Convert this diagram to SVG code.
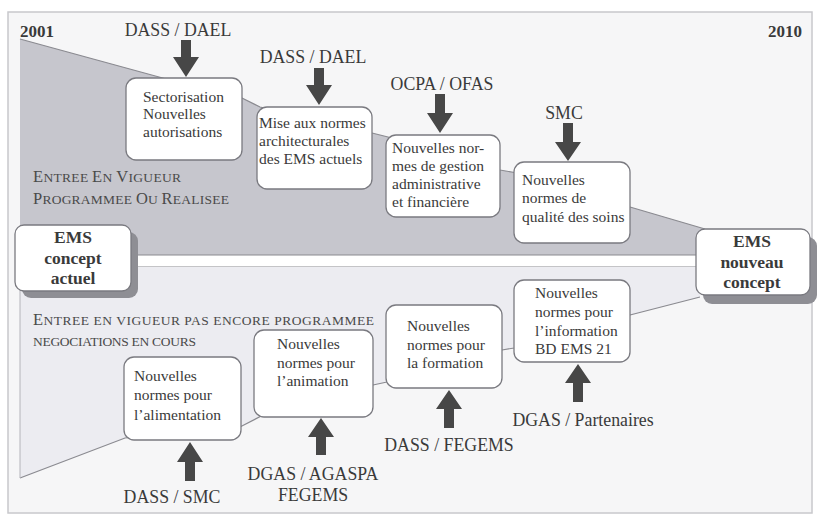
<svg xmlns="http://www.w3.org/2000/svg" width="820" height="518" viewBox="0 0 820 518">
<style>
  .bg{fill:#f6f6f7;stroke:#c8c8cc;stroke-width:1.5}
  .up{fill:#c6c6cd}
  .low{fill:#ececf1}
  .edge{fill:none;stroke:#8a8a90;stroke-width:1.2}
  .box{fill:#ffffff;stroke:#7a7a80;stroke-width:1.3}
  .shadow{fill:#8e8e94}
  .arr{fill:#474747}
  text{font-family:'Liberation Serif','DejaVu Serif',serif;fill:#3a3a3a}
  .bt{font-size:15.5px}
  .lbl{font-size:17.8px;text-anchor:middle}
  .sc{font-size:13.5px;fill:#4a4a4a}
  .big{font-size:16.5px}
  .ems{font-size:17.5px;font-weight:bold;text-anchor:middle}
  .yr{font-size:17px;font-weight:bold}
</style>
<rect class="bg" x="8" y="12" width="804" height="501"/>
<!-- upper funnel -->
<polygon class="up" points="20,39 170,80 240,97 260,107 372,133 388,137 500,170 517,173 630,207 705,229 705,255 20,255"/>
<polyline class="edge" points="20,39 170,80 240,97 260,107 372,133 388,137 500,170 517,173 630,207 705,229"/>
<!-- band -->
<rect x="130" y="255" width="575" height="12" fill="#ffffff"/>
<line class="edge" x1="130" y1="255" x2="705" y2="255"/>
<line class="edge" x1="130" y1="267" x2="705" y2="267"/>
<!-- lower funnel -->
<polygon class="low" points="20,267 700,267 700,297 630,315 514,348 502,350 387,382 373,385 267,413 240,427 125,438 20,478"/>
<polyline class="edge" points="700,297 630,315 514,348 502,350 387,382 373,385 267,413 240,427 125,438 20,478"/>
<line x1="20" y1="267" x2="20" y2="478" stroke="#b4b4ba" stroke-width="1"/>

<g font-family="'Liberation Serif','DejaVu Serif',serif">
<text class="yr" x="20" y="37">2001</text>
<text class="yr" x="768" y="37">2010</text>

<text class="sc" x="33" y="182" textLength="148" lengthAdjust="spacing"><tspan class="big">E</tspan>NTREE <tspan class="big">E</tspan>N <tspan class="big">V</tspan>IGUEUR</text>
<text class="sc" x="33" y="204" textLength="196" lengthAdjust="spacing"><tspan class="big">P</tspan>ROGRAMMEE <tspan class="big">O</tspan>U <tspan class="big">R</tspan>EALISEE</text>
<text class="sc" x="33" y="325" textLength="341" lengthAdjust="spacing"><tspan class="big">E</tspan>NTREE EN VIGUEUR PAS ENCORE PROGRAMMEE</text>
<text class="sc" x="33" y="346" textLength="163" lengthAdjust="spacing">NEGOCIATIONS EN COURS</text>
</g>

<g id="connectors">
  <path class="arr" d="M181,40H191V57H199L186,77L173,57H181Z"/>
  <path class="arr" d="M314,68H324V85H332L319,105L306,85H314Z"/>
  <path class="arr" d="M435,94H445V113H453L440,133L427,113H435Z"/>
  <path class="arr" d="M563,123H573V142H581L568,161L555,142H563Z"/>
  <path class="arr" d="M185,481H195V462H203L190,442L177,462H185Z"/>
  <path class="arr" d="M316,455H326V437H334L321,418L308,437H316Z"/>
  <path class="arr" d="M444,428H454V409H462L449,390L436,409H444Z"/>
  <path class="arr" d="M573,402H583V383H591L578,364L565,383H573Z"/>
</g>

<g id="labels" font-family="'Liberation Serif','DejaVu Serif',serif">
  <text class="lbl" x="178" y="36">DASS / DAEL</text>
  <text class="lbl" x="313" y="63">DASS / DAEL</text>
  <text class="lbl" x="442" y="90">OCPA / OFAS</text>
  <text class="lbl" x="564" y="119">SMC</text>
  <text class="lbl" x="172" y="503">DASS / SMC</text>
  <text class="lbl" x="313" y="480">DGAS / AGASPA</text>
  <text class="lbl" x="313" y="501">FEGEMS</text>
  <text class="lbl" x="449" y="451">DASS / FEGEMS</text>
  <text class="lbl" x="583" y="426">DGAS / Partenaires</text>
</g>

<g id="ems-actuel" font-family="'Liberation Serif','DejaVu Serif',serif">
  <rect class="shadow" x="22" y="232" width="116" height="66" rx="9"/>
  <rect class="box" x="15" y="225" width="116" height="66" rx="9"/>
  <text class="ems" x="73" y="243">EMS</text>
  <text class="ems" x="73" y="264">concept</text>
  <text class="ems" x="73" y="284">actuel</text>
</g>

<g id="ems-nouveau" font-family="'Liberation Serif','DejaVu Serif',serif">
  <rect class="shadow" x="703" y="237" width="114" height="67" rx="9"/>
  <rect class="box" x="696" y="229" width="114" height="66" rx="9"/>
  <text class="ems" x="752" y="247">EMS</text>
  <text class="ems" x="752" y="268">nouveau</text>
  <text class="ems" x="752" y="288">concept</text>
</g>

<g id="sectorisation" font-family="'Liberation Serif','DejaVu Serif',serif">
  <rect class="box" x="126" y="78" width="116" height="82" rx="10"/>
  <text class="bt" x="143" y="102">Sectorisation</text>
  <text class="bt" x="143" y="119">Nouvelles</text>
  <text class="bt" x="143" y="137">autorisations</text>
</g>

<g id="mise-aux-normes" font-family="'Liberation Serif','DejaVu Serif',serif">
  <rect class="box" x="257" y="107" width="115" height="82" rx="10"/>
  <text class="bt" x="259" y="128">Mise aux normes</text>
  <text class="bt" x="259" y="146">architecturales</text>
  <text class="bt" x="259" y="164">des EMS actuels</text>
</g>

<g id="gestion" font-family="'Liberation Serif','DejaVu Serif',serif">
  <rect class="box" x="386" y="135" width="114" height="82" rx="10"/>
  <text class="bt" x="392" y="153">Nouvelles nor-</text>
  <text class="bt" x="392" y="171">mes de gestion</text>
  <text class="bt" x="392" y="189">administrative</text>
  <text class="bt" x="392" y="207">et financière</text>
</g>

<g id="qualite" font-family="'Liberation Serif','DejaVu Serif',serif">
  <rect class="box" x="514" y="162" width="116" height="81" rx="10"/>
  <text class="bt" x="522" y="185">Nouvelles</text>
  <text class="bt" x="522" y="203">normes de</text>
  <text class="bt" x="522" y="222">qualité des soins</text>
</g>

<g id="alimentation" font-family="'Liberation Serif','DejaVu Serif',serif">
  <rect class="box" x="124" y="357" width="117" height="83" rx="10"/>
  <text class="bt" x="134" y="381">Nouvelles</text>
  <text class="bt" x="134" y="400">normes pour</text>
  <text class="bt" x="134" y="420">l’alimentation</text>
</g>

<g id="animation" font-family="'Liberation Serif','DejaVu Serif',serif">
  <rect class="box" x="254" y="330" width="119" height="87" rx="10"/>
  <text class="bt" x="277" y="349">Nouvelles</text>
  <text class="bt" x="277" y="368">normes pour</text>
  <text class="bt" x="277" y="386">l’animation</text>
</g>

<g id="formation" font-family="'Liberation Serif','DejaVu Serif',serif">
  <rect class="box" x="386" y="305" width="116" height="83" rx="10"/>
  <text class="bt" x="407" y="331">Nouvelles</text>
  <text class="bt" x="407" y="350">normes pour</text>
  <text class="bt" x="407" y="368">la formation</text>
</g>

<g id="information" font-family="'Liberation Serif','DejaVu Serif',serif">
  <rect class="box" x="514" y="280" width="116" height="82" rx="10"/>
  <text class="bt" x="535" y="298">Nouvelles</text>
  <text class="bt" x="535" y="317">normes pour</text>
  <text class="bt" x="535" y="336">l’information</text>
  <text class="bt" x="535" y="354">BD EMS 21</text>
</g>
</svg>
